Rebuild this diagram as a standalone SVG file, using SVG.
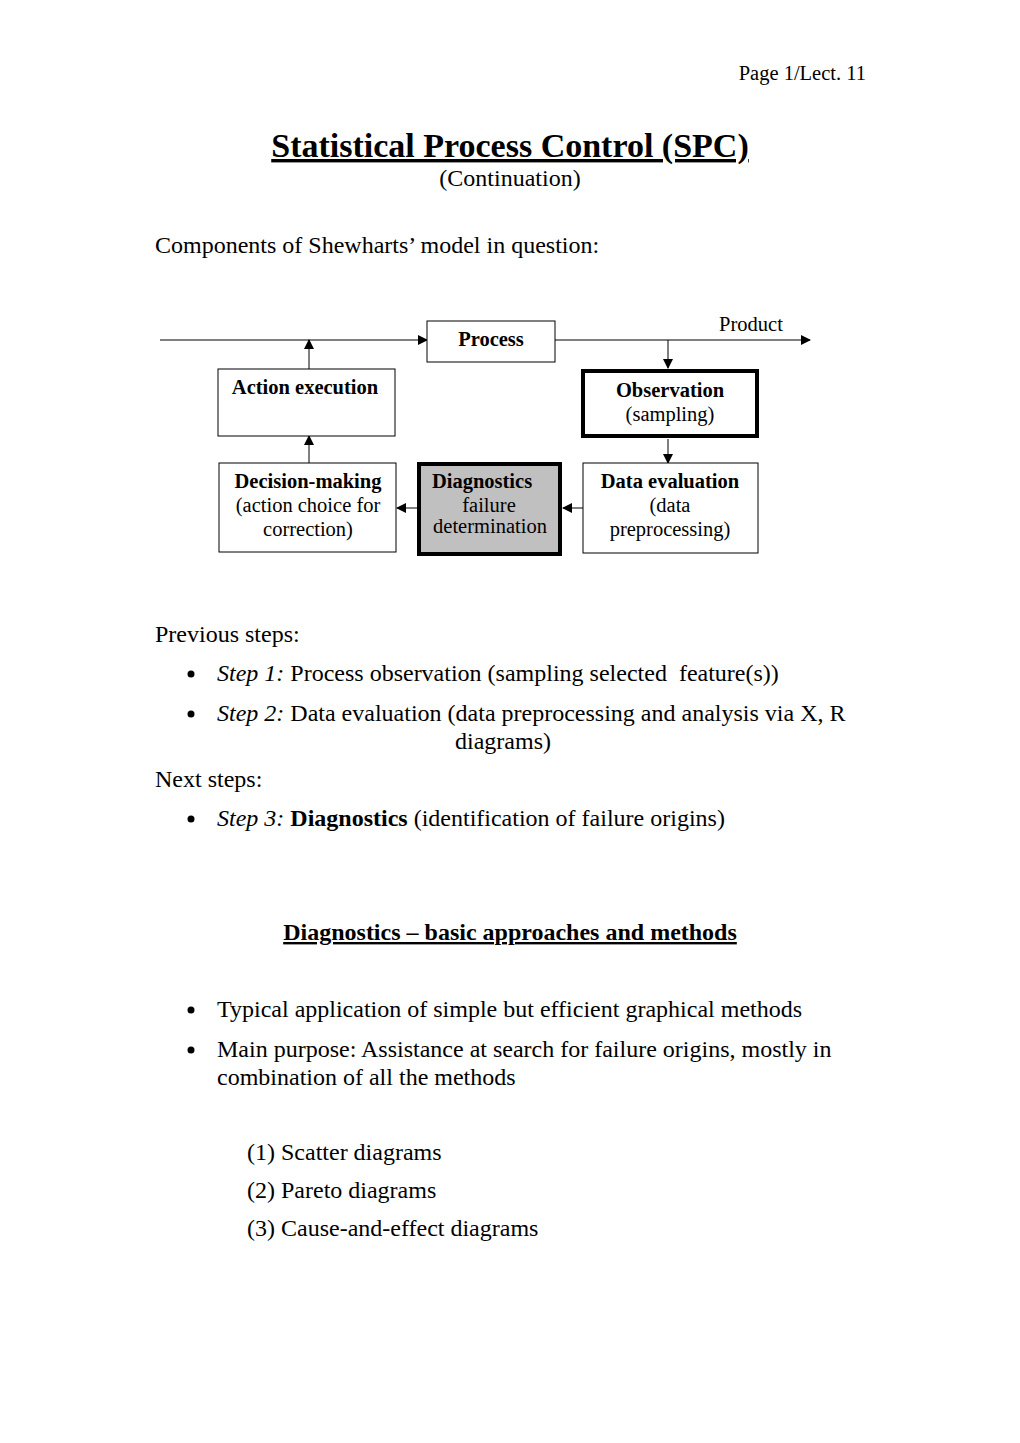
<svg xmlns="http://www.w3.org/2000/svg" width="1020" height="1443" viewBox="0 0 1020 1443">
<style>
text{font-family:"Liberation Serif","Times New Roman",serif;fill:#000}
.body{font-size:24px}
.box{fill:#fff;stroke:#000;stroke-width:1}
.thick{fill:#fff;stroke:#000;stroke-width:4}
.lbl{font-size:20.5px;text-anchor:middle}
.b{font-weight:bold}
.ln{stroke:#000;stroke-width:1;fill:none;marker-end:url(#ah)}
</style>
<defs>
<marker id="ah" markerWidth="10" markerHeight="10" refX="9" refY="5" orient="auto" markerUnits="userSpaceOnUse">
<path d="M0,0 L10,5 L0,10 z" fill="#000"/>
</marker>
</defs>
<rect width="1020" height="1443" fill="#fff"/>
<text x="866" y="80" font-size="20.5" text-anchor="end">Page 1/Lect. 11</text>
<text x="510" y="157" font-size="34" font-weight="bold" text-anchor="middle" text-decoration="underline">Statistical Process Control (SPC)</text>
<text x="510" y="186" font-size="24" text-anchor="middle">(Continuation)</text>
<text x="155" y="253" class="body">Components of Shewharts’ model in question:</text>

<g id="connectors">
<line class="ln" x1="160" y1="340" x2="427" y2="340"/>
<line class="ln" x1="555" y1="340" x2="810" y2="340"/>
<line class="ln" x1="668" y1="340" x2="668" y2="368"/>
<line class="ln" x1="668" y1="439" x2="668" y2="463"/>
<line class="ln" x1="583" y1="508" x2="563" y2="508"/>
<line class="ln" x1="417" y1="508" x2="397" y2="508"/>
<line class="ln" x1="309" y1="463" x2="309" y2="436"/>
<line class="ln" x1="309" y1="369" x2="309" y2="340"/>
<text x="751" y="331" class="lbl">Product</text>
</g>

<g id="process">
<rect class="box" x="427" y="321" width="128" height="41"/>
<text x="491" y="346" class="lbl b">Process</text>
</g>
<g id="action">
<rect class="box" x="218" y="369" width="177" height="67"/>
<text x="305" y="394" class="lbl b">Action execution</text>
</g>
<g id="observation">
<rect class="thick" x="583" y="371" width="174" height="65"/>
<text x="670" y="397" class="lbl b">Observation</text>
<text x="670" y="421" class="lbl">(sampling)</text>
</g>
<g id="decision">
<rect class="box" x="219" y="463" width="177" height="89"/>
<text x="308" y="488" class="lbl b">Decision-making</text>
<text x="308" y="512" class="lbl">(action choice for</text>
<text x="308" y="536" class="lbl">correction)</text>
</g>
<g id="diagnostics">
<rect x="419" y="464" width="141" height="90" fill="#c0c0c0" stroke="#000" stroke-width="4"/>
<text x="482" y="488" class="lbl b">Diagnostics</text>
<text x="489" y="512" class="lbl" font-size="17">failure</text>
<text x="490" y="533" class="lbl" font-size="17">determination</text>
</g>
<g id="dataeval">
<rect class="box" x="583" y="463" width="175" height="90"/>
<text x="670" y="488" class="lbl b">Data evaluation</text>
<text x="670" y="512" class="lbl">(data</text>
<text x="670" y="536" class="lbl">preprocessing)</text>
</g>

<text x="155" y="642" class="body">Previous steps:</text>
<circle cx="191" cy="674" r="3.5"/>
<text x="217" y="681" class="body" style="white-space:pre"><tspan font-style="italic">Step 1:</tspan> Process observation (sampling selected  feature(s))</text>
<circle cx="191" cy="714" r="3.5"/>
<text x="217" y="721" class="body"><tspan font-style="italic">Step 2:</tspan> Data evaluation (data preprocessing and analysis via X, R</text>
<text x="503" y="749" class="body" text-anchor="middle">diagrams)</text>
<text x="155" y="787" class="body">Next steps:</text>
<circle cx="191" cy="819" r="3.5"/>
<text x="217" y="826" class="body"><tspan font-style="italic">Step 3:</tspan> <tspan font-weight="bold">Diagnostics</tspan> (identification of failure origins)</text>

<text x="510" y="940" class="body" font-weight="bold" text-anchor="middle" text-decoration="underline">Diagnostics – basic approaches and methods</text>

<circle cx="191" cy="1010" r="3.5"/>
<text x="217" y="1017" class="body">Typical application of simple but efficient graphical methods</text>
<circle cx="191" cy="1050" r="3.5"/>
<text x="217" y="1057" class="body">Main purpose: Assistance at search for failure origins, mostly in</text>
<text x="217" y="1085" class="body">combination of all the methods</text>

<text x="247" y="1160" class="body">(1) Scatter diagrams</text>
<text x="247" y="1198" class="body">(2) Pareto diagrams</text>
<text x="247" y="1236" class="body">(3) Cause-and-effect diagrams</text>
</svg>
